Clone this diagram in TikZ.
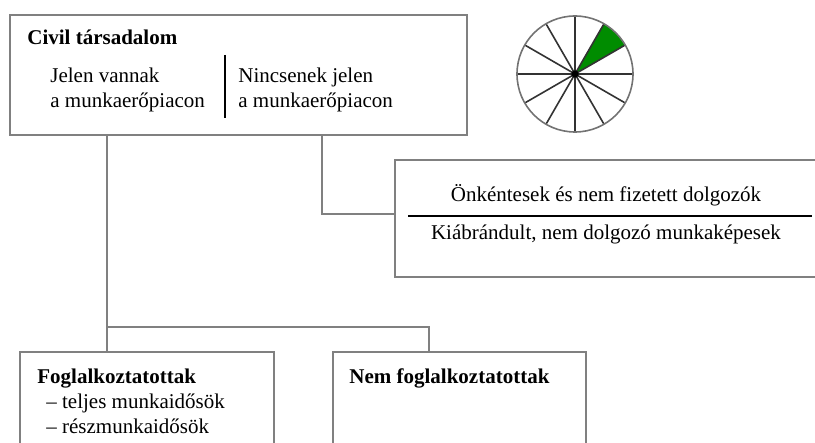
\documentclass[tikz,border=0pt]{standalone}
\usepackage{fontspec}
\setmainfont{Liberation Serif}
\usepackage{xcolor}
\usepackage{tikz}
\usetikzlibrary{positioning}
\definecolor{boxgray}{RGB}{128,128,128}
\definecolor{sectorgreen}{RGB}{0,140,0}
\tikzstyle{box} = [rectangle, draw=boxgray, line width=1.2pt, inner sep=0pt, outer sep=0pt, anchor=north west]
\tikzstyle{line} = [draw=boxgray, line width=1.2pt]
\tikzstyle{rule} = [draw=black, line width=0.8pt]
\tikzstyle{txt} = [inner sep=0pt, anchor=base west, font=\fontsize{10.5pt}{12.5pt}\selectfont]
\tikzstyle{title} = [txt, font=\fontsize{10.5pt}{12.5pt}\selectfont\bfseries]

\begin{document}
\begin{tikzpicture}[x=0.5pt, y=-0.5pt]
    \useasboundingbox (0,0) rectangle (815,443);
    % Boxes
    \node[box, minimum width=228.5pt, minimum height=60pt] (civil) at (10,15) {};
    \node[box, minimum width=220pt, minimum height=58.5pt] (outside) at (395,160) {};
    \node[box, minimum width=127pt, minimum height=64pt] (employed) at (20,352) {};
    \node[box, minimum width=126.5pt, minimum height=64pt] (unemployed) at (333,352) {};

    % Texts
    \node[title] (civiltitle) at (27,45) {Civil társadalom};
    \node[txt] (present1) at (50,83) {Jelen vannak};
    \node[txt] (present2) at (50,108) {a munkaerőpiacon};
    \node[txt] (absent1) at (238,83) {Nincsenek jelen};
    \node[txt] (absent2) at (238,108) {a munkaerőpiacon};
    \draw[rule] (225,55) -- (225,118);
    \node[txt, anchor=base] (volunteers) at (606,202) {Önkéntesek és nem fizetett dolgozók};
    \draw[rule] (408,216) -- (812,216);
    \node[txt, anchor=base] (discouraged) at (606,240) {Kiábrándult, nem dolgozó munkaképesek};
    \node[title] (employedtitle) at (37,384) {Foglalkoztatottak};
    \node[txt] (fulltime) at (46,409) {– teljes munkaidősök};
    \node[txt] (parttime) at (46,434) {– részmunkaidősök};
    \node[title] (unemployedtitle) at (349,384) {Nem foglalkoztatottak};

    % Connectors
    \coordinate (split) at (107,327);
    \coordinate (join) at (429,327);
    \coordinate (bend) at (322,214);
    \draw[line] (split |- civil.south) -- (split |- employed.north);
    \draw[line] (split) -- (join) -- (join |- unemployed.north);
    \draw[line] (bend |- civil.south) -- (bend) -- (bend -| outside.west);

    % Pie
    \coordinate (pie) at (575,74);
    \fill[sectorgreen] (pie) -- ++(30:29pt) arc[start angle=30, end angle=60, radius=29pt] -- cycle;
    \foreach \a in {0,30,...,330}
        \draw[black!80, line width=0.8pt] (pie) -- ++(\a:29pt);
    \draw[black!55, line width=0.8pt] (pie) circle[radius=29pt];
    \fill[black] (pie) circle[radius=1.8pt];
\end{tikzpicture}
\end{document}
